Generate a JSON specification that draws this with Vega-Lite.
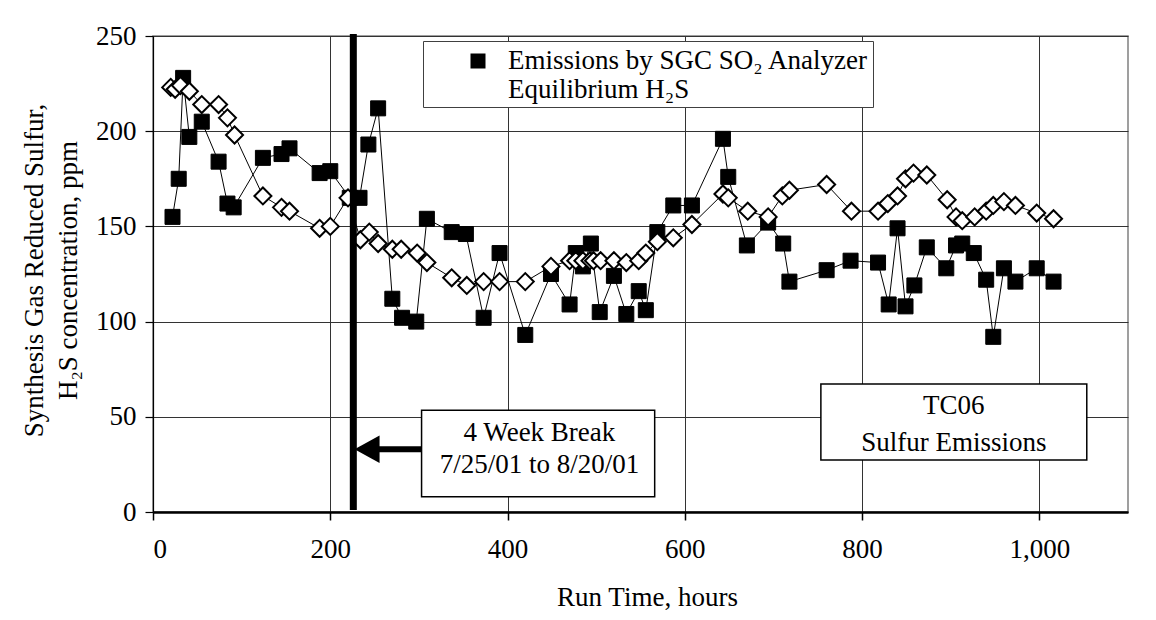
{
  "$schema": "https://vega.github.io/schema/vega-lite/v6.json",
  "width": 975,
  "height": 476,
  "autosize": {"type": "none"},
  "padding": {"left": 153, "top": 36, "right": 28, "bottom": 108},
  "background": "white",
  "config": {
    "font": "Liberation Serif",
    "view": {"stroke": "#808080", "strokeWidth": 1.5},
    "axis": {
      "labelFont": "Liberation Serif",
      "titleFont": "Liberation Serif",
      "labelFontSize": 27,
      "titleFontSize": 27,
      "labelColor": "black",
      "titleColor": "black",
      "titleFontWeight": "normal",
      "gridColor": "#333333",
      "gridWidth": 1,
      "gridOpacity": 1,
      "tickColor": "black",
      "domainColor": "black",
      "tickSize": 8
    }
  },
  "datasets": {
    "series": [
      {"t": 22, "ppm": 155, "series": "Emissions by SGC SO₂ Analyzer"},
      {"t": 29, "ppm": 175, "series": "Emissions by SGC SO₂ Analyzer"},
      {"t": 34, "ppm": 228, "series": "Emissions by SGC SO₂ Analyzer"},
      {"t": 41, "ppm": 197, "series": "Emissions by SGC SO₂ Analyzer"},
      {"t": 55, "ppm": 205, "series": "Emissions by SGC SO₂ Analyzer"},
      {"t": 74, "ppm": 184, "series": "Emissions by SGC SO₂ Analyzer"},
      {"t": 84, "ppm": 162, "series": "Emissions by SGC SO₂ Analyzer"},
      {"t": 91, "ppm": 160, "series": "Emissions by SGC SO₂ Analyzer"},
      {"t": 124, "ppm": 186, "series": "Emissions by SGC SO₂ Analyzer"},
      {"t": 145, "ppm": 188, "series": "Emissions by SGC SO₂ Analyzer"},
      {"t": 154, "ppm": 191, "series": "Emissions by SGC SO₂ Analyzer"},
      {"t": 188, "ppm": 178, "series": "Emissions by SGC SO₂ Analyzer"},
      {"t": 200, "ppm": 179, "series": "Emissions by SGC SO₂ Analyzer"},
      {"t": 222, "ppm": 165, "series": "Emissions by SGC SO₂ Analyzer"},
      {"t": 233, "ppm": 165, "series": "Emissions by SGC SO₂ Analyzer"},
      {"t": 243, "ppm": 193, "series": "Emissions by SGC SO₂ Analyzer"},
      {"t": 254, "ppm": 212, "series": "Emissions by SGC SO₂ Analyzer"},
      {"t": 270, "ppm": 112, "series": "Emissions by SGC SO₂ Analyzer"},
      {"t": 281, "ppm": 102, "series": "Emissions by SGC SO₂ Analyzer"},
      {"t": 297, "ppm": 100, "series": "Emissions by SGC SO₂ Analyzer"},
      {"t": 309, "ppm": 154, "series": "Emissions by SGC SO₂ Analyzer"},
      {"t": 337, "ppm": 147, "series": "Emissions by SGC SO₂ Analyzer"},
      {"t": 353, "ppm": 146, "series": "Emissions by SGC SO₂ Analyzer"},
      {"t": 373, "ppm": 102, "series": "Emissions by SGC SO₂ Analyzer"},
      {"t": 391, "ppm": 136, "series": "Emissions by SGC SO₂ Analyzer"},
      {"t": 420, "ppm": 93, "series": "Emissions by SGC SO₂ Analyzer"},
      {"t": 449, "ppm": 125, "series": "Emissions by SGC SO₂ Analyzer"},
      {"t": 470, "ppm": 109, "series": "Emissions by SGC SO₂ Analyzer"},
      {"t": 477, "ppm": 136, "series": "Emissions by SGC SO₂ Analyzer"},
      {"t": 485, "ppm": 129, "series": "Emissions by SGC SO₂ Analyzer"},
      {"t": 494, "ppm": 141, "series": "Emissions by SGC SO₂ Analyzer"},
      {"t": 504, "ppm": 105, "series": "Emissions by SGC SO₂ Analyzer"},
      {"t": 520, "ppm": 124, "series": "Emissions by SGC SO₂ Analyzer"},
      {"t": 534, "ppm": 104, "series": "Emissions by SGC SO₂ Analyzer"},
      {"t": 548, "ppm": 116, "series": "Emissions by SGC SO₂ Analyzer"},
      {"t": 556, "ppm": 106, "series": "Emissions by SGC SO₂ Analyzer"},
      {"t": 569, "ppm": 147, "series": "Emissions by SGC SO₂ Analyzer"},
      {"t": 587, "ppm": 161, "series": "Emissions by SGC SO₂ Analyzer"},
      {"t": 608, "ppm": 161, "series": "Emissions by SGC SO₂ Analyzer"},
      {"t": 643, "ppm": 196, "series": "Emissions by SGC SO₂ Analyzer"},
      {"t": 649, "ppm": 176, "series": "Emissions by SGC SO₂ Analyzer"},
      {"t": 670, "ppm": 140, "series": "Emissions by SGC SO₂ Analyzer"},
      {"t": 694, "ppm": 152, "series": "Emissions by SGC SO₂ Analyzer"},
      {"t": 711, "ppm": 141, "series": "Emissions by SGC SO₂ Analyzer"},
      {"t": 718, "ppm": 121, "series": "Emissions by SGC SO₂ Analyzer"},
      {"t": 760, "ppm": 127, "series": "Emissions by SGC SO₂ Analyzer"},
      {"t": 787, "ppm": 132, "series": "Emissions by SGC SO₂ Analyzer"},
      {"t": 818, "ppm": 131, "series": "Emissions by SGC SO₂ Analyzer"},
      {"t": 830, "ppm": 109, "series": "Emissions by SGC SO₂ Analyzer"},
      {"t": 840, "ppm": 149, "series": "Emissions by SGC SO₂ Analyzer"},
      {"t": 849, "ppm": 108, "series": "Emissions by SGC SO₂ Analyzer"},
      {"t": 859, "ppm": 119, "series": "Emissions by SGC SO₂ Analyzer"},
      {"t": 873, "ppm": 139, "series": "Emissions by SGC SO₂ Analyzer"},
      {"t": 895, "ppm": 128, "series": "Emissions by SGC SO₂ Analyzer"},
      {"t": 906, "ppm": 140, "series": "Emissions by SGC SO₂ Analyzer"},
      {"t": 913, "ppm": 141, "series": "Emissions by SGC SO₂ Analyzer"},
      {"t": 926, "ppm": 136, "series": "Emissions by SGC SO₂ Analyzer"},
      {"t": 940, "ppm": 122, "series": "Emissions by SGC SO₂ Analyzer"},
      {"t": 948, "ppm": 92, "series": "Emissions by SGC SO₂ Analyzer"},
      {"t": 960, "ppm": 128, "series": "Emissions by SGC SO₂ Analyzer"},
      {"t": 973, "ppm": 121, "series": "Emissions by SGC SO₂ Analyzer"},
      {"t": 997, "ppm": 128, "series": "Emissions by SGC SO₂ Analyzer"},
      {"t": 1016, "ppm": 121, "series": "Emissions by SGC SO₂ Analyzer"},
      {"t": 20, "ppm": 223, "series": "Equilibrium H₂S"},
      {"t": 25, "ppm": 222, "series": "Equilibrium H₂S"},
      {"t": 31, "ppm": 224, "series": "Equilibrium H₂S"},
      {"t": 41, "ppm": 221, "series": "Equilibrium H₂S"},
      {"t": 55, "ppm": 214, "series": "Equilibrium H₂S"},
      {"t": 74, "ppm": 214, "series": "Equilibrium H₂S"},
      {"t": 84, "ppm": 207, "series": "Equilibrium H₂S"},
      {"t": 92, "ppm": 198, "series": "Equilibrium H₂S"},
      {"t": 124, "ppm": 166, "series": "Equilibrium H₂S"},
      {"t": 145, "ppm": 160, "series": "Equilibrium H₂S"},
      {"t": 154, "ppm": 158, "series": "Equilibrium H₂S"},
      {"t": 188, "ppm": 149, "series": "Equilibrium H₂S"},
      {"t": 200, "ppm": 150, "series": "Equilibrium H₂S"},
      {"t": 220, "ppm": 165, "series": "Equilibrium H₂S"},
      {"t": 234, "ppm": 143, "series": "Equilibrium H₂S"},
      {"t": 244, "ppm": 147, "series": "Equilibrium H₂S"},
      {"t": 254, "ppm": 141, "series": "Equilibrium H₂S"},
      {"t": 270, "ppm": 138, "series": "Equilibrium H₂S"},
      {"t": 280, "ppm": 138, "series": "Equilibrium H₂S"},
      {"t": 298, "ppm": 136, "series": "Equilibrium H₂S"},
      {"t": 309, "ppm": 131, "series": "Equilibrium H₂S"},
      {"t": 337, "ppm": 123, "series": "Equilibrium H₂S"},
      {"t": 354, "ppm": 119, "series": "Equilibrium H₂S"},
      {"t": 373, "ppm": 121, "series": "Equilibrium H₂S"},
      {"t": 391, "ppm": 121, "series": "Equilibrium H₂S"},
      {"t": 420, "ppm": 121, "series": "Equilibrium H₂S"},
      {"t": 449, "ppm": 129, "series": "Equilibrium H₂S"},
      {"t": 470, "ppm": 132, "series": "Equilibrium H₂S"},
      {"t": 477, "ppm": 132, "series": "Equilibrium H₂S"},
      {"t": 485, "ppm": 132, "series": "Equilibrium H₂S"},
      {"t": 493, "ppm": 132, "series": "Equilibrium H₂S"},
      {"t": 497, "ppm": 132, "series": "Equilibrium H₂S"},
      {"t": 505, "ppm": 132, "series": "Equilibrium H₂S"},
      {"t": 520, "ppm": 132, "series": "Equilibrium H₂S"},
      {"t": 534, "ppm": 131, "series": "Equilibrium H₂S"},
      {"t": 548, "ppm": 132, "series": "Equilibrium H₂S"},
      {"t": 556, "ppm": 136, "series": "Equilibrium H₂S"},
      {"t": 569, "ppm": 142, "series": "Equilibrium H₂S"},
      {"t": 587, "ppm": 144, "series": "Equilibrium H₂S"},
      {"t": 608, "ppm": 151, "series": "Equilibrium H₂S"},
      {"t": 643, "ppm": 167, "series": "Equilibrium H₂S"},
      {"t": 649, "ppm": 165, "series": "Equilibrium H₂S"},
      {"t": 671, "ppm": 158, "series": "Equilibrium H₂S"},
      {"t": 694, "ppm": 155, "series": "Equilibrium H₂S"},
      {"t": 710, "ppm": 166, "series": "Equilibrium H₂S"},
      {"t": 718, "ppm": 169, "series": "Equilibrium H₂S"},
      {"t": 760, "ppm": 172, "series": "Equilibrium H₂S"},
      {"t": 788, "ppm": 158, "series": "Equilibrium H₂S"},
      {"t": 818, "ppm": 158, "series": "Equilibrium H₂S"},
      {"t": 829, "ppm": 162, "series": "Equilibrium H₂S"},
      {"t": 840, "ppm": 166, "series": "Equilibrium H₂S"},
      {"t": 849, "ppm": 175, "series": "Equilibrium H₂S"},
      {"t": 858, "ppm": 178, "series": "Equilibrium H₂S"},
      {"t": 873, "ppm": 177, "series": "Equilibrium H₂S"},
      {"t": 896, "ppm": 164, "series": "Equilibrium H₂S"},
      {"t": 906, "ppm": 155, "series": "Equilibrium H₂S"},
      {"t": 913, "ppm": 153, "series": "Equilibrium H₂S"},
      {"t": 927, "ppm": 155, "series": "Equilibrium H₂S"},
      {"t": 940, "ppm": 158, "series": "Equilibrium H₂S"},
      {"t": 948, "ppm": 161, "series": "Equilibrium H₂S"},
      {"t": 960, "ppm": 163, "series": "Equilibrium H₂S"},
      {"t": 973, "ppm": 161, "series": "Equilibrium H₂S"},
      {"t": 997, "ppm": 157, "series": "Equilibrium H₂S"},
      {"t": 1016, "ppm": 154, "series": "Equilibrium H₂S"}
    ],
    "boxes": [
      {"x1": 303, "x2": 566, "y1": 8, "y2": 53.5},
      {"x1": 753.5, "x2": 1053.5, "y1": 27.3, "y2": 67.2}
    ],
    "labels": [
      {"x": 436, "y": 41.5, "label": "4 Week Break"},
      {"x": 436, "y": 24.7, "label": "7/25/01 to 8/20/01"},
      {"x": 903.5, "y": 55.6, "label": "TC06"},
      {"x": 903.5, "y": 36.5, "label": "Sulfur Emissions"}
    ],
    "breakline": [{"t": 226, "lo": 1, "hi": 251}],
    "arrow": [{"a": 250, "b": 303, "y": 33}],
    "arrowhead": [{"t": 241.5, "y": 33}]
  },
  "layer": [
    {
      "data": {"name": "series"},
      "mark": {"type": "line", "color": "black", "strokeWidth": 1},
      "encoding": {
        "x": {
          "field": "t", "type": "quantitative",
          "scale": {"domain": [0, 1100], "nice": false, "zero": false},
          "axis": {
            "values": [0, 200, 400, 600, 800, 1000],
            "format": ",.0f",
            "title": "Run Time, hours",
            "grid": true,
            "domainWidth": 2.5,
            "tickWidth": 1.5,
            "labelPadding": 16,
            "titleX": 494,
            "titleY": 93,
            "titleBaseline": "alphabetic",
            "titleAnchor": null,
            "titleAlign": "center"
          }
        },
        "y": {
          "field": "ppm", "type": "quantitative",
          "scale": {"domain": [0, 250], "nice": false},
          "axis": {
            "values": [0, 50, 100, 150, 200, 250],
            "title": ["Synthesis Gas Reduced Sulfur,", "H₂S concentration, ppm"],
            "grid": true,
            "domainWidth": 1.2,
            "tickWidth": 1.2,
            "labelPadding": 9,
            "titleAngle": -90,
            "titleX": -111,
            "titleY": 234,
            "titleAlign": "center",
            "titleBaseline": "alphabetic",
            "titleLineHeight": 34
          }
        },
        "detail": {"field": "series"}
      }
    },
    {
      "data": {"name": "series"},
      "transform": [{"filter": "datum.series === 'Emissions by SGC SO₂ Analyzer'"}],
      "mark": {"type": "point", "shape": "square", "filled": true, "fill": "black", "stroke": "black", "strokeWidth": 1, "size": 225, "opacity": 1},
      "encoding": {
        "x": {"field": "t", "type": "quantitative", "scale": {"domain": [0, 1100], "nice": false, "zero": false}},
        "y": {"field": "ppm", "type": "quantitative", "scale": {"domain": [0, 250], "nice": false}}
      }
    },
    {
      "data": {"name": "series"},
      "transform": [{"filter": "datum.series === 'Equilibrium H₂S'"}],
      "mark": {"type": "point", "shape": "diamond", "filled": true, "fill": "white", "stroke": "black", "strokeWidth": 2, "size": 289, "opacity": 1},
      "encoding": {
        "x": {"field": "t", "type": "quantitative", "scale": {"domain": [0, 1100], "nice": false, "zero": false}},
        "y": {"field": "ppm", "type": "quantitative", "scale": {"domain": [0, 250], "nice": false}}
      }
    },
    {
      "data": {"name": "series"},
      "transform": [{"filter": "false"}],
      "mark": {"type": "point", "filled": false, "stroke": "black", "strokeWidth": 1.3, "opacity": 1},
      "encoding": {
        "x": {"field": "t", "type": "quantitative", "scale": {"domain": [0, 1100], "nice": false, "zero": false}},
        "y": {"field": "ppm", "type": "quantitative", "scale": {"domain": [0, 250], "nice": false}},
        "shape": {
          "field": "series", "type": "nominal",
          "scale": {
            "domain": ["Emissions by SGC SO₂ Analyzer", "Equilibrium H₂S"],
            "range": ["M-1.7,0H1.7M-0.5,-0.5H0.5V0.5H-0.5Z", "M-1.7,0H-0.57M0.57,0H1.7M0,-0.57L0.57,0L0,0.57L-0.57,0Z"]
          },
          "legend": {
            "title": null,
            "orient": "none",
            "legendX": 270,
            "legendY": 5,
            "direction": "vertical",
            "strokeColor": "#404040",
            "fillColor": "white",
            "padding": 4,
            "symbolSize": 900,
            "symbolOffset": 35,
            "labelOffset": 14,
            "labelFont": "Liberation Serif",
            "labelFontSize": 27,
            "labelColor": "black",
            "labelLimit": 600,
            "rowPadding": -11,
            "symbolStrokeColor": "black",
            "symbolStrokeWidth": 1.3,
            "encode": {
              "symbols": {
                "stroke": {"value": "black"},
                "strokeWidth": {"value": 1.3},
                "opacity": {"value": 1}
              }
            }
          }
        },
        "fill": {
          "field": "series", "type": "nominal",
          "scale": {"domain": ["Emissions by SGC SO₂ Analyzer", "Equilibrium H₂S"], "range": ["black", "white"]},
          "legend": {
            "title": null,
            "orient": "none",
            "legendX": 270,
            "legendY": 5,
            "direction": "vertical",
            "strokeColor": "#404040",
            "fillColor": "white",
            "padding": 4,
            "symbolSize": 900,
            "symbolOffset": 35,
            "labelOffset": 14,
            "labelFont": "Liberation Serif",
            "labelFontSize": 27,
            "labelColor": "black",
            "labelLimit": 600,
            "rowPadding": -11,
            "symbolStrokeColor": "black",
            "symbolStrokeWidth": 1.3,
            "encode": {
              "symbols": {
                "stroke": {"value": "black"},
                "strokeWidth": {"value": 1.3},
                "opacity": {"value": 1}
              }
            }
          }
        }
      }
    },
    {
      "data": {"name": "breakline"},
      "mark": {"type": "rule", "color": "black", "strokeWidth": 7, "clip": false},
      "encoding": {
        "x": {"field": "t", "type": "quantitative", "scale": {"domain": [0, 1100], "nice": false, "zero": false}},
        "y": {"field": "lo", "type": "quantitative", "scale": {"domain": [0, 250], "nice": false}},
        "y2": {"field": "hi"}
      }
    },
    {
      "data": {"name": "arrow"},
      "mark": {"type": "rule", "color": "black", "strokeWidth": 6},
      "encoding": {
        "x": {"field": "a", "type": "quantitative", "scale": {"domain": [0, 1100], "nice": false, "zero": false}},
        "x2": {"field": "b"},
        "y": {"field": "y", "type": "quantitative", "scale": {"domain": [0, 250], "nice": false}}
      }
    },
    {
      "data": {"name": "arrowhead"},
      "mark": {"type": "point", "filled": true, "color": "black", "opacity": 1, "shape": "M-1,0L1,-1.1L1,1.1Z", "size": 625},
      "encoding": {
        "x": {"field": "t", "type": "quantitative", "scale": {"domain": [0, 1100], "nice": false, "zero": false}},
        "y": {"field": "y", "type": "quantitative", "scale": {"domain": [0, 250], "nice": false}}
      }
    },
    {
      "data": {"name": "boxes"},
      "mark": {"type": "rect", "fill": "white", "stroke": "black", "strokeWidth": 1.5},
      "encoding": {
        "x": {"field": "x1", "type": "quantitative", "scale": {"domain": [0, 1100], "nice": false, "zero": false}},
        "x2": {"field": "x2"},
        "y": {"field": "y1", "type": "quantitative", "scale": {"domain": [0, 250], "nice": false}},
        "y2": {"field": "y2"}
      }
    },
    {
      "data": {"name": "labels"},
      "mark": {"type": "text", "font": "Liberation Serif", "fontSize": 27, "color": "black", "align": "center", "baseline": "middle"},
      "encoding": {
        "x": {"field": "x", "type": "quantitative", "scale": {"domain": [0, 1100], "nice": false, "zero": false}},
        "y": {"field": "y", "type": "quantitative", "scale": {"domain": [0, 250], "nice": false}},
        "text": {"field": "label"}
      }
    }
  ]
}
